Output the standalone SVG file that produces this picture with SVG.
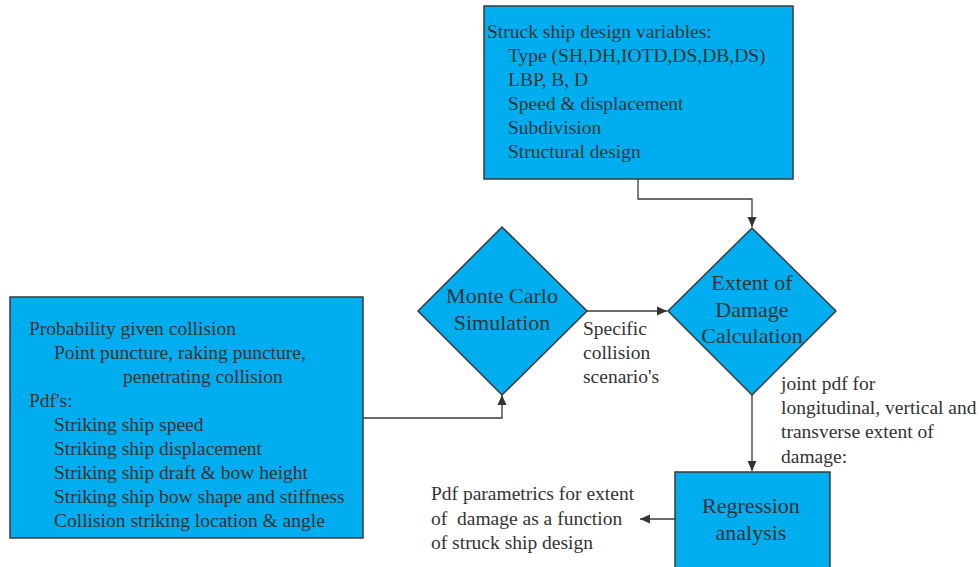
<svg xmlns="http://www.w3.org/2000/svg" width="980" height="567" viewBox="0 0 980 567">
<style>
.shape{fill:#00AEEF;stroke:#3a3a3a;stroke-width:1.5}
.t{font-family:'Liberation Serif','DejaVu Serif',serif;font-size:19.5px;fill:#333}
.big{font-family:'Liberation Serif','DejaVu Serif',serif;font-size:22px;fill:#333;text-anchor:middle}
.c{fill:none;stroke:#3a3a3a;stroke-width:1.3}
</style>
<defs>
<marker id="ah" viewBox="0 0 10 10" refX="10" refY="5" markerWidth="10" markerHeight="10" markerUnits="userSpaceOnUse" orient="auto">
<path d="M0,0.5 L10,5 L0,9.5 Z" fill="#333"/>
</marker>
</defs>
<rect width="980" height="567" fill="#fff"/>
<g id="connectors">
<path class="c" d="M638,179 V199 H752 V227" marker-end="url(#ah)"/>
<path class="c" d="M587,311 H667" marker-end="url(#ah)"/>
<path class="c" d="M363,418 H502 V395" marker-end="url(#ah)"/>
<path class="c" d="M752,395 V471" marker-end="url(#ah)"/>
<path class="c" d="M675,519 H640" marker-end="url(#ah)"/>
</g>
<g id="struck">
<rect class="shape" x="484" y="6" width="309" height="173"/>
<text class="t" x="487" y="38">Struck ship design variables:</text>
<text class="t" x="508" y="62">Type (SH,DH,IOTD,DS,DB,DS)</text>
<text class="t" x="508" y="86">LBP, B, D</text>
<text class="t" x="508" y="110">Speed &amp; displacement</text>
<text class="t" x="508" y="134">Subdivision</text>
<text class="t" x="508" y="158">Structural design</text>
</g>
<g id="probability">
<rect class="shape" x="10" y="297" width="353" height="241"/>
<text class="t" x="29" y="335">Probability given collision</text>
<text class="t" x="54" y="359">Point puncture, raking puncture,</text>
<text class="t" x="123" y="383">penetrating collision</text>
<text class="t" x="29" y="407">Pdf's:</text>
<text class="t" x="54" y="431">Striking ship speed</text>
<text class="t" x="54" y="455">Striking ship displacement</text>
<text class="t" x="54" y="479">Striking ship draft &amp; bow height</text>
<text class="t" x="54" y="503">Striking ship bow shape and stiffness</text>
<text class="t" x="54" y="527">Collision striking location &amp; angle</text>
</g>
<g id="montecarlo">
<polygon class="shape" points="502,227 587,311 502,395 418,311"/>
<text class="big" x="502" y="303">Monte Carlo</text>
<text class="big" x="502" y="330">Simulation</text>
</g>
<g id="extent">
<polygon class="shape" points="752,228 836,311 752,395 668,311"/>
<text class="big" x="752" y="290">Extent of</text>
<text class="big" x="752" y="317">Damage</text>
<text class="big" x="752" y="343">Calculation</text>
</g>
<g id="regression">
<rect class="shape" x="675" y="472" width="155" height="100"/>
<text class="big" x="751" y="513">Regression</text>
<text class="big" x="751" y="540">analysis</text>
</g>
<g id="labels">
<text class="t" x="583" y="335">Specific</text>
<text class="t" x="583" y="359">collision</text>
<text class="t" x="583" y="383">scenario's</text>
<text class="t" x="781" y="390">joint pdf for</text>
<text class="t" x="781" y="414">longitudinal, vertical and</text>
<text class="t" x="781" y="438">transverse extent of</text>
<text class="t" x="781" y="463">damage:</text>
<text class="t" x="431" y="500">Pdf parametrics for extent</text>
<text class="t" x="431" y="525" xml:space="preserve">of  damage as a function</text>
<text class="t" x="431" y="549">of struck ship design</text>
</g>
</svg>
